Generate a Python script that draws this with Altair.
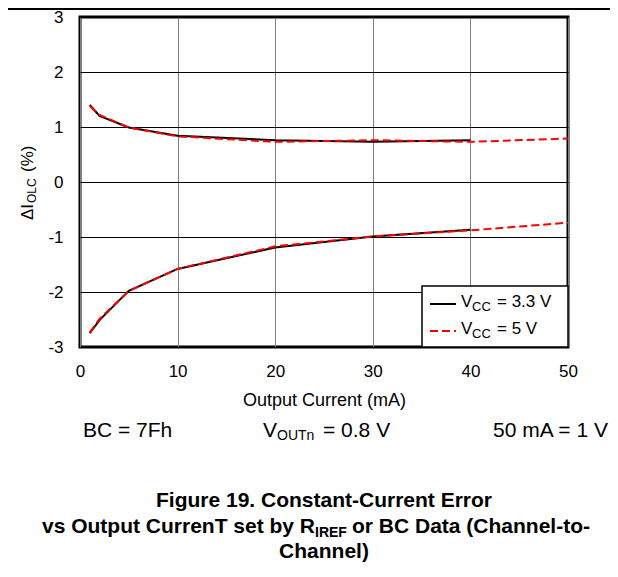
import altair as alt
import pandas as pd

# ---------------- data ----------------
x_33 = [1, 2, 5, 10, 20, 30, 40]
hi_33 = [1.40, 1.20, 0.99, 0.84, 0.76, 0.73, 0.76]
lo_33 = [-2.75, -2.51, -1.98, -1.58, -1.19, -0.99, -0.87]

x_5 = [1, 2, 5, 10, 20, 30, 40, 50]
hi_5 = [1.38, 1.22, 0.99, 0.83, 0.73, 0.76, 0.73, 0.79]
lo_5 = [-2.74, -2.49, -1.98, -1.58, -1.17, -0.99, -0.88, -0.74]

x_ticks = [0, 10, 20, 30, 40, 50]
y_ticks = [-3, -2, -1, 0, 1, 2, 3]

legend_main = ["V", "V"]
legend_sub = ["CC", "CC"]
legend_rest = ["= 3.3 V", "= 5 V"]

notes = ["BC = 7Fh", "V", "OUTn", "= 0.8 V", "50 mA = 1 V"]
y_title = ["ΔI", "OLC", "(%)"]
fig_title = ["Figure 19. Constant-Current Error",
             "vs Output CurrenT set by R", "IREF", "or BC Data (Channel-to-",
             "Channel)"]

FONT = "Liberation Sans"


def frame(xs, ys_hi, ys_lo):
    rows = []
    for x, y in zip(xs, ys_hi):
        rows.append({"x": x, "y": y, "branch": "hi"})
    for x, y in zip(xs, ys_lo):
        rows.append({"x": x, "y": y, "branch": "lo"})
    return pd.DataFrame(rows)


df33 = frame(x_33, hi_33, lo_33)
df5 = frame(x_5, hi_5, lo_5)

xenc = alt.X("x:Q", scale=alt.Scale(domain=[0, 50], nice=False),
             axis=alt.Axis(values=x_ticks, grid=True, gridColor="#808080", gridWidth=1,
                           domain=False, ticks=False, tickSize=0, labelFontSize=17,
                           labelFont=FONT, labelColor="black", labelPadding=16,
                           labelFlush=False, title="Output Current (mA)",
                           titleFont=FONT, titleFontSize=18, titleFontWeight="normal",
                           titleColor="black", titlePadding=12))
yenc = alt.Y("y:Q", scale=alt.Scale(domain=[-3, 3], nice=False),
             axis=alt.Axis(values=y_ticks, grid=True, gridColor="black", gridWidth=1,
                           domain=False, ticks=False, tickSize=0, labelFontSize=17,
                           labelFont=FONT, labelColor="black", labelPadding=17,
                           labelFlush=False, labelExpr="'' + datum.value", title=None))

black = alt.Chart(df33).mark_line(color="black", strokeWidth=2).encode(
    x=xenc, y=yenc, detail="branch:N")
red = alt.Chart(df5).mark_line(color="#ff0000", strokeWidth=2, strokeDash=[8, 4]).encode(
    x="x:Q", y="y:Q", detail="branch:N")


def txt(s, px, py, size, align="left", weight="normal", angle=0):
    kw = dict(align=align, baseline="alphabetic", fontSize=size, font=FONT,
              fontWeight=weight, color="black")
    if angle:
        kw["angle"] = angle
    return alt.Chart(pd.DataFrame({"t": [s]})).mark_text(**kw).encode(
        x=alt.value(px), y=alt.value(py), text="t:N")


one = pd.DataFrame({"k": [0]})

# legend box
leg_box = alt.Chart(one).mark_rect(fill="white", stroke="black", strokeWidth=1.5).encode(
    x=alt.value(342), x2=alt.value(488), y=alt.value(269), y2=alt.value(330))
leg_black = alt.Chart(one).mark_rule(color="black", strokeWidth=2).encode(
    x=alt.value(350), x2=alt.value(376), y=alt.value(287))
leg_red = alt.Chart(one).mark_rule(color="#ff0000", strokeWidth=2, strokeDash=[8, 4]).encode(
    x=alt.value(350), x2=alt.value(376), y=alt.value(314))

leg_texts = [
    txt(legend_main[0], 381, 290, 17),
    txt(legend_sub[0], 392, 294, 13),
    txt(legend_rest[0], 417, 290, 17),
    txt(legend_main[1], 381, 317, 17),
    txt(legend_sub[1], 392, 321, 13),
    txt(legend_rest[1], 417, 317, 17),
]

# header rule
header = alt.Chart(one).mark_rule(color="black", strokeWidth=2).encode(
    x=alt.value(-72), x2=alt.value(530), y=alt.value(-8))

# y title (rotated, with subscript)
ytitle = [
    txt(y_title[0], -47, 203, 17, angle=270),
    txt(y_title[1], -44, 186, 12, angle=270),
    txt(y_title[2], -47, 155, 17, angle=270),
]

# notes under axis
note_layers = [
    txt(notes[0], 3, 420, 21),
    txt(notes[1], 183, 420, 21),
    txt(notes[2], 197, 423, 14),
    txt(notes[3], 243, 420, 21),
    txt(notes[4], 528, 420, 21, align="right"),
]

# figure caption
cap = [
    txt(fig_title[0], 244, 490, 21, align="center", weight="bold"),
    txt(fig_title[1], 235, 516, 21, align="right", weight="bold"),
    txt(fig_title[2], 235, 520, 14, align="left", weight="bold"),
    txt(fig_title[3], 272, 516, 21, align="left", weight="bold"),
    txt(fig_title[4], 244, 541, 21, align="center", weight="bold"),
]

chart = alt.layer(
    black, red, leg_box, leg_black, leg_red, *leg_texts, header, *ytitle,
    *note_layers, *cap
).properties(
    width=488, height=330,
    autosize=alt.AutoSizeParams(type="none"),
    padding={"left": 72, "top": 9, "right": 42, "bottom": 217},
    background="white",
).configure_view(stroke="black", strokeWidth=3)

chart.save("out.html", embed_options={"renderer": "svg", "actions": False})
